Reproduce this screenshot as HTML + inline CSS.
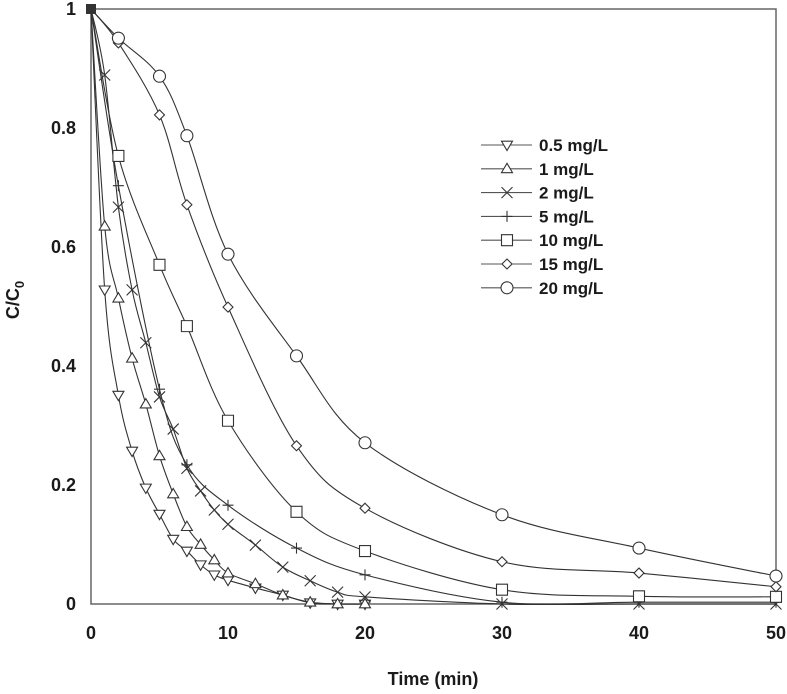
<!DOCTYPE html>
<html><head><meta charset="utf-8"><style>
body{margin:0;background:#fff;}
svg text{font-family:"Liberation Sans",Arial,sans-serif;font-weight:bold;fill:#1a1a1a;}
</style></head><body>
<svg id="chart" width="787" height="689" xmlns="http://www.w3.org/2000/svg"></svg>
<script>
const xTicks=[0,10,20,30,40,50];
const yTicks=[0,0.2,0.4,0.6,0.8,1];
const yTickLabels=["0","0.2","0.4","0.6","0.8","1"];
const seriesNames=["0.5 mg/L","1 mg/L","2 mg/L","5 mg/L","10 mg/L","15 mg/L","20 mg/L"];
const seriesMarkers=["tridown","triup","x","plus","square","diamond","circle"];
const t05=[0,1,2,3,4,5,6,7,8,9,10,12,14,16,18,20];
const v05=[1,0.528,0.351,0.257,0.195,0.151,0.109,0.089,0.066,0.049,0.04,0.027,0.015,0.002,0,0];
const t1=[0,1,2,3,4,5,6,7,8,9,10,12,14,16,18,20];
const v1=[1,0.635,0.514,0.413,0.336,0.249,0.185,0.13,0.10,0.074,0.052,0.034,0.015,0.003,0,0];
const t2=[0,1,2,3,4,5,6,7,8,9,10,12,14,16,18,20,30,40,50];
const v2=[1,0.889,0.667,0.528,0.439,0.348,0.294,0.228,0.19,0.158,0.134,0.099,0.062,0.039,0.02,0.012,0,0,0];
const t5=[0,2,5,7,10,15,20,30,40,50];
const v5=[1,0.703,0.361,0.234,0.166,0.094,0.049,0.003,0.003,0.003];
const t10=[0,2,5,7,10,15,20,30,40,50];
const v10=[1,0.753,0.57,0.467,0.308,0.155,0.089,0.024,0.013,0.012];
const t15=[0,2,5,7,10,15,20,30,40,50];
const v15=[1,0.943,0.822,0.671,0.499,0.266,0.161,0.071,0.052,0.029];
const t20=[0,2,5,7,10,15,20,30,40,50];
const v20=[1,0.951,0.887,0.787,0.588,0.417,0.271,0.15,0.094,0.047];
const seriesT=[t05,t1,t2,t5,t10,t15,t20];
const seriesV=[v05,v1,v2,v5,v10,v15,v20];

const X0=91,X1=776,Y0=604,Y1=9;
const xs=t=>X0+(X1-X0)*t/50;
const ys=v=>Y0-(Y0-Y1)*v;
const svg=document.getElementById('chart');
const NS='http://www.w3.org/2000/svg';
function mk(tag,attrs){const e=document.createElementNS(NS,tag);for(const k in attrs)e.setAttribute(k,attrs[k]);svg.appendChild(e);return e;}

let frame=mk('rect',{x:X0,y:Y1,width:X1-X0,height:Y0-Y1,fill:'none',stroke:'#666','stroke-width':1.5});



xTicks.forEach(t=>{const e=mk('text',{x:xs(t),y:639,'font-size':18,'text-anchor':'middle'});e.textContent=t;

});
yTicks.forEach((v,i)=>{const e=mk('text',{x:76,y:ys(v)+6,'font-size':18,'text-anchor':'end'});e.textContent=yTickLabels[i];

});
let xt=mk('text',{x:433,y:685,'font-size':18,'text-anchor':'middle'});xt.textContent='Time (min)';


let yt=mk('text',{x:0,y:0,'font-size':18,'text-anchor':'middle',transform:'translate(19,300) rotate(-90)'});
yt.innerHTML='C/C<tspan dy="5" font-size="13">0</tspan>';



function marker(type,cx,cy,name){
  const s=5.5;let d;
  if(type==='tridown')d=`M${cx-s},${cy-s*0.7}L${cx+s},${cy-s*0.7}L${cx},${cy+s}Z`;
  else if(type==='triup')d=`M${cx-s},${cy+s*0.7}L${cx+s},${cy+s*0.7}L${cx},${cy-s}Z`;
  else if(type==='x')d=`M${cx-s},${cy-s}L${cx+s},${cy+s}M${cx-s},${cy+s}L${cx+s},${cy-s}`;
  else if(type==='plus')d=`M${cx-s},${cy}L${cx+s},${cy}M${cx},${cy-s}L${cx},${cy+s}`;
  else if(type==='square')d=`M${cx-5.5},${cy-5.5}h11v11h-11Z`;
  else if(type==='diamond')d=`M${cx},${cy-5}L${cx+5},${cy}L${cx},${cy+5}L${cx-5},${cy}Z`;
  let e;
  if(type==='circle')e=mk('circle',{cx:cx,cy:cy,r:6,fill:'#fff',stroke:'#333','stroke-width':1.1});
  else e=mk('path',{d:d,fill:(type==='x'||type==='plus')?'none':'#fff',stroke:'#333','stroke-width':1.1});
  
  
}
function curve(ts,vs){
  const p=ts.map((t,i)=>[xs(t),ys(vs[i])]);
  let d=`M${p[0][0]},${p[0][1]}`;
  for(let i=0;i<p.length-1;i++){
    const p0=p[i-1]||p[i],p1=p[i],p2=p[i+1],p3=p[i+2]||p[i+1];
    const c1=[p1[0]+(p2[0]-p0[0])/6,p1[1]+(p2[1]-p0[1])/6];
    const c2=[p2[0]-(p3[0]-p1[0])/6,p2[1]-(p3[1]-p1[1])/6];
    d+=`C${c1[0]},${c1[1]} ${c2[0]},${c2[1]} ${p2[0]},${p2[1]}`;
  }
  return d;
}
seriesT.forEach((ts,si)=>{
  const vs=seriesV[si];
  const ln=mk('path',{d:curve(ts,vs),fill:'none',stroke:'#333','stroke-width':1.1});
  
  
  ts.forEach((t,i)=>{ if(t>0) marker(seriesMarkers[si],xs(t),ys(vs[i]),'series-point-'+si); });
});
let st=mk('rect',{x:X0-5,y:Y1-5,width:10,height:10,fill:'#333'});



seriesNames.forEach((n,i)=>{
  const y=145+i*23.8;
  const l=mk('line',{x1:481,x2:532,y1:y,y2:y,stroke:'#555','stroke-width':1.1});
  
  
  marker(seriesMarkers[i],507,y,'legend-marker');
  const tx=mk('text',{x:539,y:y+6,'font-size':17});tx.textContent=n;
  
  
});
</script>
</body></html>
